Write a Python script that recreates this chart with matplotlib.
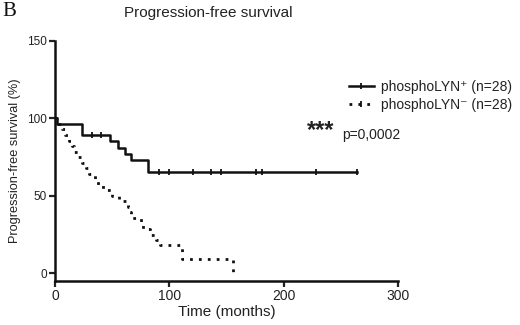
import matplotlib.pyplot as plt

plt.rcParams['font.family'] = ['Liberation Sans', 'DejaVu Sans']

# phosphoLYN+ : step curve (time in months, survival %)
pos_time = [0, 2, 24, 48, 55, 61, 66, 81, 264]
pos_surv = [100, 96.4, 89.3, 85.2, 81.1, 77.0, 73.0, 65.7, 65.7]
pos_cens_time = [32, 40, 91, 100, 121, 136, 145, 176, 181, 228, 264]

# phosphoLYN- : step curve
neg_time = [0, 3, 6, 9, 12, 15, 17, 20, 24, 27, 30, 35, 38, 42, 50, 56,
            64, 65, 66, 75, 77, 83, 88, 92, 111, 156]
neg_surv = [100, 96.4, 92.9, 89.3, 85.7, 82.1, 78.6, 75.0, 71.4, 67.9, 64.3,
            60.7, 57.1, 53.6, 50.0, 46.4, 42.9, 39.3, 35.7, 32.1, 28.6, 25.0,
            21.4, 18.2, 9.1, 0]

xticks = [0, 100, 200, 300]
yticks = [0, 50, 100, 150]

fig = plt.figure(figsize=(5.2, 3.25), dpi=100)
ax = fig.add_axes([0.1058, 0.135, 0.66, 0.739])

def surv_at(times, survs, t):
    s = survs[0]
    for ti, si in zip(times, survs):
        if ti <= t:
            s = si
    return s

col = '#111111'
txt = '#222222'
ax.plot(pos_time, pos_surv, drawstyle='steps-post', color=col, lw=1.8)
ax.plot(pos_cens_time, [surv_at(pos_time, pos_surv, t) for t in pos_cens_time],
        ls='none', marker='|', ms=5, mew=1.3, color=col)
ax.plot(neg_time, neg_surv, drawstyle='steps-post', color=col, lw=2.0,
        ls=(0, (1, 2.2)))

ax.set_xlim(0, 300)
ax.set_ylim(-5, 150)
ax.set_xticks(xticks)
ax.set_yticks(yticks)
for s in ['top', 'right']:
    ax.spines[s].set_visible(False)
for s in ['left', 'bottom']:
    ax.spines[s].set_linewidth(1.8)
    ax.spines[s].set_color(col)
ax.tick_params(width=1.6, length=4, colors=txt, pad=2)
ax.tick_params(axis='x', labelsize=10)
ax.tick_params(axis='y', labelsize=8.5)
ax.set_xlabel('Time (months)', fontsize=11, color=txt, labelpad=1)
ax.set_ylabel('Progression-free survival (%)', fontsize=9.2, color=txt, labelpad=4)

ax.text(220, 92, '***', fontsize=17, fontweight='bold', color=txt, ha='left', va='center')
ax.text(251, 89, 'p=0,0002', fontsize=10, color=txt, ha='left', va='center')

h1, = ax.plot([], [], color=col, lw=1.8, marker='|', ms=5, mew=1.3)
h2, = ax.plot([], [], color=col, lw=2.0, ls=(0, (1, 2.2)), marker='|', ms=5, mew=1.3)
fig.legend([h1, h2], ['phosphoLYN\u207a (n=28)', 'phosphoLYN\u207b (n=28)'],
           loc='upper left', bbox_to_anchor=(0.647, 0.792), frameon=False,
           fontsize=10, handlelength=1.8, handletextpad=0.5, labelspacing=0.25,
           labelcolor=txt)

fig.text(0.40, 0.96, 'Progression-free survival', fontsize=11, ha='center',
         va='center', color=txt)
fig.text(0.005, 0.965, 'B', fontsize=15, family='Liberation Serif', ha='left',
         va='center', color=col)

fig.savefig('out.png', dpi=100)
